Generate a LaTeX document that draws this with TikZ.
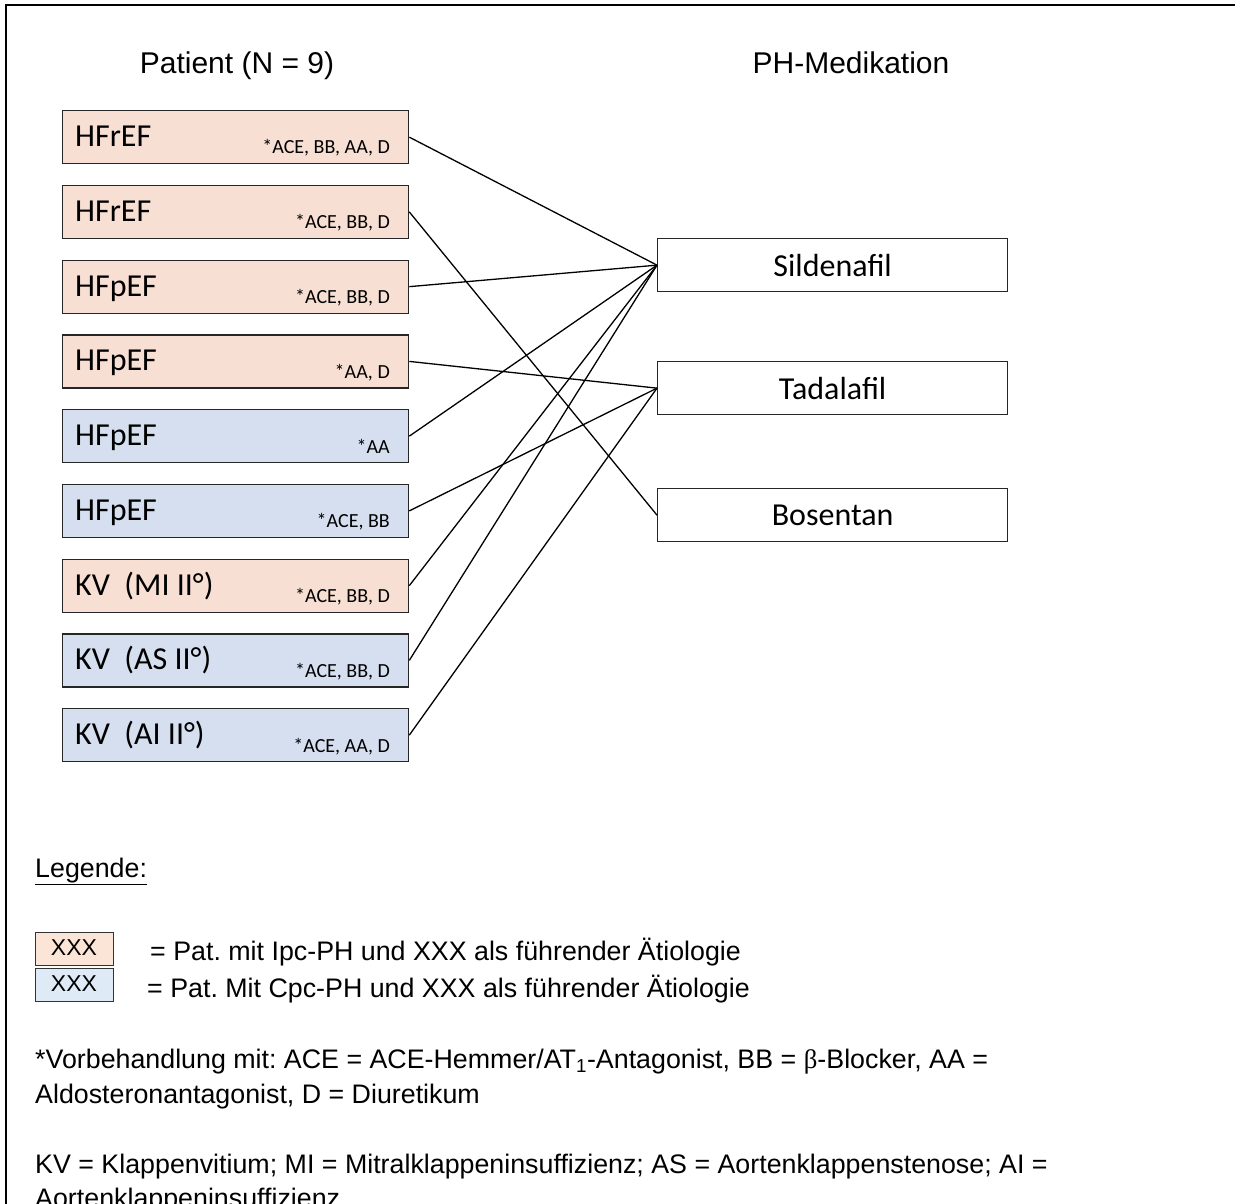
\documentclass[tikz,border=0pt]{standalone}
\usepackage{fontspec}
\setmainfont{Liberation Sans}
\newfontfamily\calfont{Carlito}
\newfontfamily\symfont{Liberation Serif}
\usetikzlibrary{calc}
\frenchspacing
\definecolor{ipc}{HTML}{F8DFD3}
\definecolor{cpc}{HTML}{D5DFEF}
\definecolor{ipcL}{HTML}{FBE5D6}
\definecolor{cpcL}{HTML}{DEEBF7}
\tikzset{
  pbox/.style={draw=black!85, line width=1.3pt, anchor=north west, minimum width=346pt, minimum height=53pt, inner sep=0pt},
  mbox/.style={draw=black!85, line width=1.3pt, anchor=north west, minimum width=350pt, minimum height=53pt, inner sep=0pt,
    font=\calfont\fontsize{32}{38}\selectfont},
  big/.style={font=\calfont\fontsize{32}{38}\selectfont, anchor=base west, inner sep=0pt},
  small/.style={font=\calfont\fontsize{20}{24}\selectfont, anchor=base east, inner sep=0pt},
  conn/.style={line width=1.3pt, black},
  title/.style={font=\fontsize{30}{36}\selectfont, inner sep=0pt, anchor=base},
  leg/.style={font=\fontsize{26.8}{32}\selectfont, inner sep=0pt, anchor=base west},
  lbox/.style={draw=black!80, line width=1.2pt, anchor=north west, minimum width=78pt, minimum height=33pt, inner sep=0pt},
  ltxt/.style={font=\fontsize{23}{27}\selectfont, inner sep=0pt, anchor=base},
}
\begin{document}
\begin{tikzpicture}[x=1pt,y=-1pt]
\useasboundingbox (0,0) rectangle (1235,1204);
\fill[white] (0,0) rectangle (1235,1204);
% frame
\draw[line width=2pt] (6,1210) -- (6,5) -- (1240,5);
% titles
\node[title] (tp) at (237,74) {Patient (N = 9)};
\node[title] (tm) at (851,74) {PH-Medikation};
% patient boxes
\foreach \i/\col/\lab/\med in {
  1/ipc/HFrEF/{*ACE, BB, AA, D},
  2/ipc/HFrEF/{*ACE, BB, D},
  3/ipc/HFpEF/{*ACE, BB, D},
  4/ipc/HFpEF/{*AA, D},
  5/cpc/HFpEF/{*AA},
  6/cpc/HFpEF/{*ACE, BB},
  7/ipc/{KV\ \ (MI II°)}/{*ACE, BB, D},
  8/cpc/{KV\ \ (AS II°)}/{*ACE, BB, D},
  9/cpc/{KV\ \ (AI II°)}/{*ACE, AA, D}} {
  \pgfmathsetmacro{\ty}{110+74.75*(\i-1)}
  \node[pbox, fill=\col] (p\i) at (62,\ty) {};
  \node[big] (p\i a) at (75,\ty+36.7) {\lab};
  \node[small] (p\i b) at (390,\ty+44) {\med};
}
% medication boxes
\node[mbox] (sil) at (657,238) {Sildenafil};
\node[mbox] (tad) at (657,361) {Tadalafil};
\node[mbox] (bos) at (657,488) {Bosentan};
% connectors
\draw[conn] (p1.east) -- (sil.west);
\draw[conn] (p2.east) -- (bos.west);
\draw[conn] (p3.east) -- (sil.west);
\draw[conn] (p4.east) -- (tad.west);
\draw[conn] (p5.east) -- (sil.west);
\draw[conn] (p6.east) -- (tad.west);
\draw[conn] (p7.east) -- (sil.west);
\draw[conn] (p8.east) -- (sil.west);
\draw[conn] (p9.east) -- (tad.west);
% legend
\node[leg] (lg) at (35,877) {\underline{Legende:}};
\node[lbox, fill=ipcL] (lb1) at (35,932) {};
\node[lbox, fill=cpcL] (lb2) at (35,968) {};
\node[ltxt] (lx1) at (74,955) {XXX};
\node[ltxt] (lx2) at (74,991) {XXX};
\node[leg] (lt1) at (150,960) {= Pat. mit Ipc-PH und XXX als führender Ätiologie};
\node[leg] (lt2) at (147,997) {= Pat. Mit Cpc-PH und XXX als führender Ätiologie};
\node[leg] (lt3) at (35,1068) {*Vorbehandlung mit: ACE = ACE-Hemmer/AT\textsubscript{1}-Antagonist, BB = {\symfont β}-Blocker, AA =};
\node[leg] (lt4) at (35,1103) {Aldosteronantagonist, D = Diuretikum};
\node[leg] (lt5) at (35,1173) {KV = Klappenvitium; MI = Mitralklappeninsuffizienz; AS = Aortenklappenstenose; AI =};
\node[leg] (lt6) at (35,1207) {Aortenklappeninsuffizienz};
\end{tikzpicture}
\end{document}
